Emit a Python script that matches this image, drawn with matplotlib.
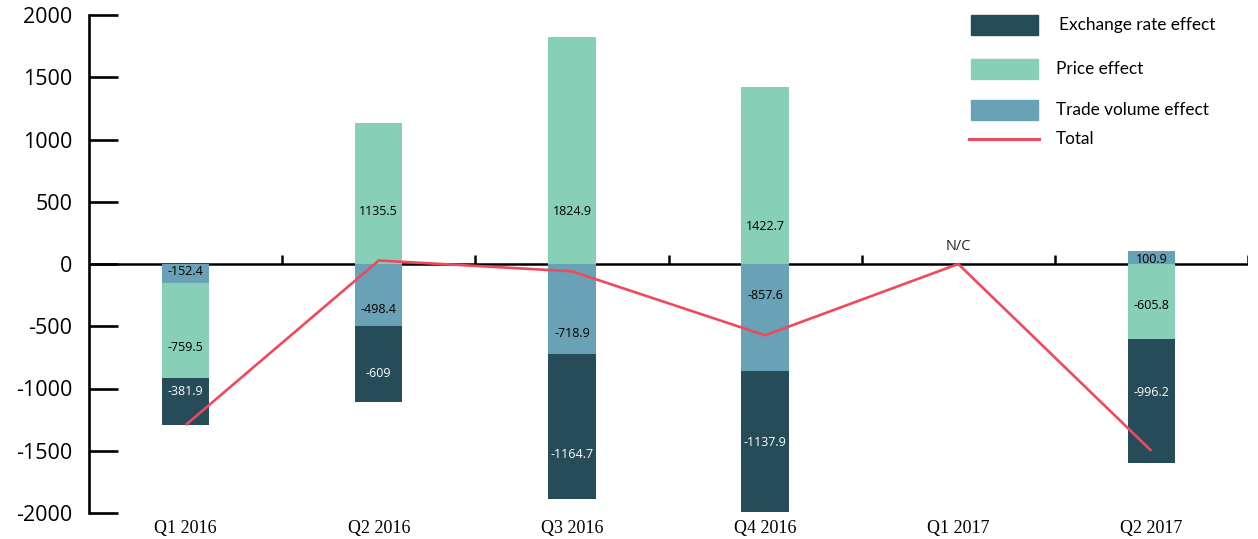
import matplotlib
matplotlib.use("Agg")
import matplotlib.pyplot as plt
import numpy as np
from matplotlib.patches import Rectangle
from matplotlib.lines import Line2D

categories = ["Q1 2016", "Q2 2016", "Q3 2016", "Q4 2016", "Q1 2017", "Q2 2017"]
trade_volume = [-152.4, -498.4, -718.9, -857.6, 0.0, 100.9]
price = [-759.5, 1135.5, 1824.9, 1422.7, 0.0, -605.8]
exchange = [-381.9, -609.0, -1164.7, -1137.9, 0.0, -996.2]
total = [-1293.8, 28.1, -58.7, -572.8, 0.0, -1501.1]
yticks = [-2000, -1500, -1000, -500, 0, 500, 1000, 1500, 2000]

# label anchor heights (data units) as placed in the reference
tv_label_y = [-64, -369, -562, -249, None, 40]
price_label_y = [-667, 418, 418, 305, None, -337]
exch_label_y = [-1028, -883, -1534, -1430, None, -1036]

C_EXCH = "#264b59"
C_PRICE = "#87cfb7"
C_TV = "#69a2b6"
C_TOTAL = "#ee4a5d"

fig = plt.figure(figsize=(12.58, 5.39), dpi=100)
ax = fig.add_axes([89/1258, 26/539, (1248-89)/1258, (513-15)/539])

x = np.arange(len(categories))
w = 0.245
pos_bottom = np.zeros(len(x))
neg_bottom = np.zeros(len(x))
series = [(trade_volume, C_TV, tv_label_y, "black"),
          (price, C_PRICE, price_label_y, "black"),
          (exchange, C_EXCH, exch_label_y, "white")]
for vals, col, lab_y, tcol in series:
    v = np.array(vals)
    bottoms = np.where(v >= 0, pos_bottom, neg_bottom)
    ax.bar(x, v, w, bottom=bottoms, color=col, zorder=2)
    for i, val in enumerate(v):
        if val != 0 and lab_y[i] is not None:
            ax.text(x[i], lab_y[i], f"{val:g}", ha="center", va="center",
                    fontsize=9, color=tcol, family="Open Sans", zorder=4)
    pos_bottom = pos_bottom + np.where(v >= 0, v, 0)
    neg_bottom = neg_bottom + np.where(v < 0, v, 0)

ax.plot(x, total, color=C_TOTAL, lw=1.9, zorder=3, solid_capstyle="butt")
ax.text(x[4], 137, "N/C", ha="center", va="center", fontsize=10.5,
        family="Open Sans", color="#222222")

ax.set_xlim(-0.5, 5.5)
ax.set_ylim(-2000, 2000)

# zero axis line with boundary ticks
ax.axhline(0, color="black", lw=1.8, zorder=1)
bounds = np.arange(0.5, 6.0, 1.0)
ax.vlines(bounds, 0, 70, color="black", lw=1.8, zorder=1)

for s in ["top", "right", "bottom"]:
    ax.spines[s].set_visible(False)
ax.spines["left"].set_linewidth(1.9)

ax.set_yticks(yticks)
ax.set_yticklabels([str(t) for t in yticks], family="Open Sans", fontsize=15.5)
ax.tick_params(axis="y", direction="in", length=21, width=1.9, pad=12)
ax.set_xticks(x)
ax.set_xticklabels(categories, family="Liberation Serif", fontsize=13)
ax.tick_params(axis="x", length=0, pad=5)

# legend (manual)
legend_items = [("patch", C_EXCH, "Exchange rate effect", 25, 1059),
                ("patch", C_PRICE, "Price effect", 69, 1056),
                ("patch", C_TV, "Trade volume effect", 110, 1056),
                ("line", C_TOTAL, "Total", 139, 1056)]
for kind, col, label, py, tx in legend_items:
    yf = 1 - py / 539
    if kind == "patch":
        fig.patches.append(Rectangle((971/1258, yf - 10/539), 67/1258, 20/539,
                                     transform=fig.transFigure, color=col))
    else:
        fig.lines.append(Line2D([969/1258, 1039/1258], [yf, yf],
                                transform=fig.transFigure, color=col, lw=2.2))
    fig.text(tx/1258, yf, label, ha="left", va="center", fontsize=12.4,
             family="Lato", color="black")

fig.savefig("out.png", dpi=100)
